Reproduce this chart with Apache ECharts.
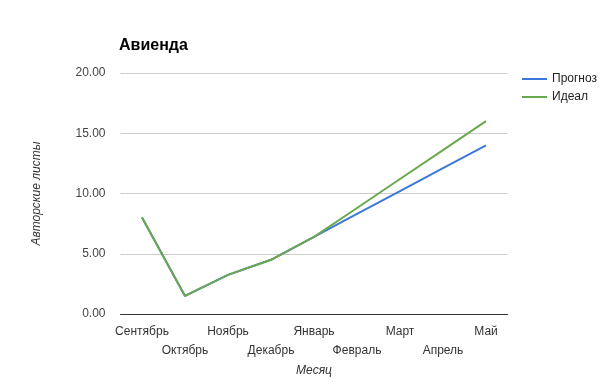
<!DOCTYPE html>
<html>
<head>
<meta charset="utf-8">
<script src="https://cdn.jsdelivr.net/npm/echarts@6/dist/echarts.min.js"></script>
<style>html,body{margin:0;padding:0;background:#fff}#c{width:605px;height:384px}</style>
</head>
<body>
<div id="c"></div>
<script>
const categories = ['Сентябрь','Октябрь','Ноябрь','Декабрь','Январь','Февраль','Март','Апрель','Май'];
const forecast = [8.0, 1.5, 3.25, 4.5, 6.4, 8.3, 10.2, 12.1, 14.0];
const ideal = [8.0, 1.5, 3.25, 4.5, 6.4, 8.8, 11.2, 13.6, 16.0];
const yTicks = [0, 5, 10, 15, 20];

const font = 'Liberation Sans, Arial, sans-serif';
const chart = echarts.init(document.getElementById('c'), null, {renderer: 'canvas'});
chart.setOption({
  animation: false,
  title: {
    text: 'Авиенда', left: 114, top: 33,
    textStyle: {fontFamily: font, fontSize: 16, fontWeight: 'bold', color: '#000'}
  },
  legend: {
    orient: 'vertical', left: 517, top: 68, itemGap: 6,
    itemWidth: 25, itemHeight: 14, itemStyle: {borderWidth: 0},
    icon: 'path://M0,6 L25,6 L25,8 L0,8 Z',
    textStyle: {fontFamily: font, fontSize: 12, color: '#222'},
    data: ['Прогноз', 'Идеал']
  },
  grid: {left: 120.5, right: 97.5, top: 73, bottom: 70},
  xAxis: {
    type: 'category', data: categories, boundaryGap: true,
    name: 'Месяц', nameLocation: 'middle', nameGap: 51,
    nameTextStyle: {fontFamily: font, fontSize: 12, fontStyle: 'italic', color: '#333'},
    axisLine: {lineStyle: {color: '#333', width: 1}},
    axisTick: {show: false},
    axisLabel: {
      interval: 0, fontFamily: font, fontSize: 12, color: '#333', margin: 8, lineHeight: 19,
      formatter: (v, i) => (i % 2 === 1 ? '\n' + v : v)
    }
  },
  yAxis: {
    type: 'value', min: yTicks[0], max: yTicks[yTicks.length - 1], interval: 5,
    name: 'Авторские листы', nameLocation: 'middle', nameGap: 78, nameRotate: 90,
    nameTextStyle: {fontFamily: font, fontSize: 12, fontStyle: 'italic', color: '#333'},
    axisLine: {show: false}, axisTick: {show: false},
    axisLabel: {fontFamily: font, fontSize: 12, color: '#444', margin: 15,
      formatter: v => v.toFixed(2)},
    splitLine: {lineStyle: {color: '#ccc', width: 1}}
  },
  series: [
    {name: 'Прогноз', type: 'line', data: forecast, symbol: 'none',
     lineStyle: {color: '#3c78d8', width: 2}, itemStyle: {color: '#3c78d8'}},
    {name: 'Идеал', type: 'line', data: ideal, symbol: 'none',
     lineStyle: {color: '#6aa84f', width: 2}, itemStyle: {color: '#6aa84f'}}
  ]
});
</script>
</body>
</html>
